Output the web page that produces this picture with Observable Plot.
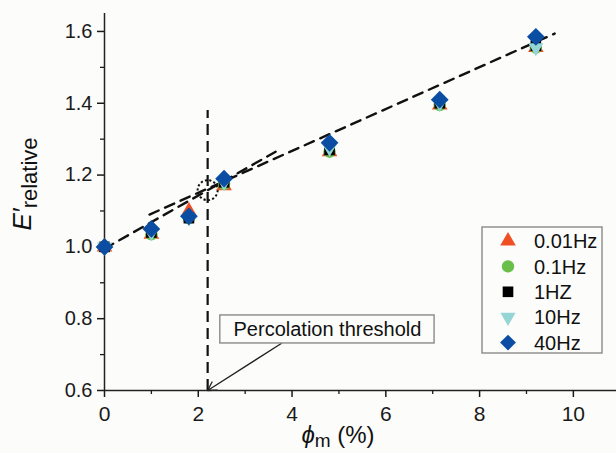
<!DOCTYPE html>
<html>
<head>
<meta charset="utf-8">
<script src="https://cdn.jsdelivr.net/npm/d3@7"></script>
<script src="https://cdn.jsdelivr.net/npm/@observablehq/plot@0.6"></script>
<style>
  html, body { margin: 0; padding: 0; background: #fcfcfa; }
  #chart svg { display: block; background: #fcfcfa; }
</style>
</head>
<body>
<div id="chart"></div>
<script>
// Nanofiller volume fraction φm (%) at which the storage modulus was measured
const phi = [0, 1.0, 1.8, 2.55, 4.8, 7.15, 9.2];

// Relative storage modulus E'/E'0 per test frequency
const seriesNames = ["0.01Hz", "0.1Hz", "1HZ", "10Hz", "40Hz"];
const e001Hz = [1.0, 1.035, 1.10, 1.17, 1.265, 1.395, 1.555];
const e01Hz  = [1.0, 1.035, 1.08, 1.175, 1.265, 1.395, 1.555];
const e1Hz   = [1.0, 1.04, 1.08, 1.18, 1.27, 1.40, 1.56];
const e10Hz  = [1.0, 1.04, 1.08, 1.18, 1.275, 1.40, 1.555];
const e40Hz  = [1.0, 1.05, 1.085, 1.19, 1.29, 1.41, 1.585];
const seriesValues = [e001Hz, e01Hz, e1Hz, e10Hz, e40Hz];

// Marker styling per series
const seriesColors = ["#f04e23", "#6abf4b", "#000000", "#96d5d6", "#0b4da2"];
const seriesSymbols = ["triangle", "circle", "square", "triangle", "diamond2"];
const seriesRotate = [0, 0, 0, 180, 0];
const seriesR = [5.8, 6.2, 6.0, 5.6, 8.0];

// Linear fits below and above the percolation threshold
const fitLow = [{x: 0, y: 0.995}, {x: 3.65, y: 1.265}];
const fitHigh = [{x: 0.96, y: 1.09}, {x: 9.6, y: 1.594}];
const threshold = 2.2;
const thresholdTop = 1.38;
const crossing = {x: 2.2, y: 1.158};

// Tick values
const xTicks = [0, 2, 4, 6, 8, 10];
const xMinor = [1, 3, 5, 7, 9];
const yTicks = [0.6, 0.8, 1.0, 1.2, 1.4, 1.6];
const yMinor = [0.7, 0.9, 1.1, 1.3, 1.5];

// Annotation box and arrow pointing at the threshold on the axis
const noteText = "Percolation threshold";
const noteBox = {x1: 2.47, x2: 7.04, y1: 0.731, y2: 0.809};
const noteArrow = {x1: 3.77, y1: 0.731, x2: 2.2, y2: 0.6};

const rows = [];
seriesNames.forEach((name, i) => {
  phi.forEach((p, j) => rows.push({phi: p, E: seriesValues[i][j], series: i}));
});

const font = "Liberation Sans, Arial, sans-serif";

const plot = Plot.plot({
  width: 616,
  height: 453,
  marginLeft: 104,
  marginRight: 0,
  marginTop: 13,
  marginBottom: 63,
  style: {fontFamily: font, fontSize: "20px", background: "#fcfcfa", color: "#1a1a1a"},
  x: {domain: [0, 10.92]},
  y: {domain: [0.6, 1.65]},
  marks: [
    // axis lines
    Plot.ruleX([0], {stroke: "#222", strokeWidth: 1.5}),
    Plot.ruleY([0.6], {stroke: "#222", strokeWidth: 1.5}),
    Plot.axisX({ticks: xTicks, tickSize: 7, tickPadding: 9, label: null, tickFormat: d3.format("d"), strokeWidth: 1.5, ariaLabel: "x-axis"}),
    Plot.axisX({ticks: xMinor, tickSize: 4, text: null, label: null, strokeWidth: 1.3}),
    Plot.axisY({ticks: yTicks, tickSize: 7, tickPadding: 5, label: null, tickFormat: d3.format(".1f"), strokeWidth: 1.5}),
    Plot.axisY({ticks: yMinor, tickSize: 4, text: null, label: null, strokeWidth: 1.3}),

    // fitted lines and threshold marker
    Plot.line(fitLow, {x: "x", y: "y", stroke: "#111", strokeWidth: 2.4, strokeDasharray: "10,7"}),
    Plot.line(fitHigh, {x: "x", y: "y", stroke: "#111", strokeWidth: 2.4, strokeDasharray: "10,7"}),
    Plot.ruleX([threshold], {y1: 0.6, y2: thresholdTop, stroke: "#111", strokeWidth: 2.2, strokeDasharray: "11,6"}),
    Plot.dot([crossing], {x: "x", y: "y", r: 10, stroke: "#111", strokeWidth: 2, strokeDasharray: "2.2,2.2", fill: "none"}),

    // data points, one layer per frequency
    ...seriesNames.map((name, i) => Plot.dot(rows.filter(d => d.series === i), {
      x: "phi", y: "E",
      symbol: () => seriesSymbols[i],
      r: seriesR[i],
      rotate: seriesRotate[i],
      fill: seriesColors[i],
      stroke: "none"
    })),

    // annotation
    Plot.arrow([noteArrow], {x1: "x1", y1: "y1", x2: "x2", y2: "y2", stroke: "#222", strokeWidth: 1.3, headLength: 11, bend: false}),
    Plot.rect([noteBox], {x1: "x1", x2: "x2", y1: "y1", y2: "y2", fill: "#fcfcfa", stroke: "#8a8a8a", strokeWidth: 1.4}),
    Plot.text([noteText], {x: (noteBox.x1 + noteBox.x2) / 2, y: (noteBox.y1 + noteBox.y2) / 2, text: d => d, fontSize: 20, fill: "#111"})
  ]
});

document.getElementById("chart").appendChild(plot);

const svg = d3.select(plot);

// slightly larger x tick labels
svg.selectAll('g[aria-label="x-axis tick label"]').style("font-size", "21px");

// Y axis title: E' with "relative" as subscript
const yTitle = svg.append("text")
  .attr("transform", "translate(31,184) rotate(-90)")
  .attr("text-anchor", "middle")
  .attr("font-family", font)
  .attr("fill", "#111");
yTitle.append("tspan").attr("font-size", 26).attr("font-style", "italic").text("E\u2032");
yTitle.append("tspan").attr("font-size", 22).attr("dy", 6).text("relative");

// X axis title: φm (%)
const xTitle = svg.append("text")
  .attr("x", 338).attr("y", 443)
  .attr("text-anchor", "middle")
  .attr("font-family", font)
  .attr("fill", "#111");
xTitle.append("tspan").attr("font-size", 24).attr("font-style", "italic").text("\u03d5");
xTitle.append("tspan").attr("font-size", 19).attr("dy", 4).text("m");
xTitle.append("tspan").attr("font-size", 24).attr("dy", -4).text(" (%)");

// Legend
const symbolTypes = {triangle: d3.symbolTriangle, circle: d3.symbolCircle, square: d3.symbolSquare, diamond2: d3.symbolDiamond2};
const legend = svg.append("g").attr("transform", "translate(482,227)");
legend.append("rect")
  .attr("width", 120).attr("height", 126)
  .attr("fill", "#fcfcfa").attr("stroke", "#8a8a8a").attr("stroke-width", 1.4);
seriesNames.forEach((name, i) => {
  const cy = 14 + i * 25.4;
  legend.append("path")
    .attr("d", d3.symbol(symbolTypes[seriesSymbols[i]], Math.PI * seriesR[i] * seriesR[i] * (i === 4 ? 0.8 : 1))())
    .attr("transform", `translate(26,${cy}) rotate(${seriesRotate[i]})`)
    .attr("fill", seriesColors[i]);
  legend.append("text")
    .attr("x", 52).attr("y", cy).attr("dy", "0.36em")
    .attr("text-anchor", "start")
    .attr("font-family", font).attr("font-size", 20).attr("fill", "#111")
    .text(name);
});
</script>
</body>
</html>
